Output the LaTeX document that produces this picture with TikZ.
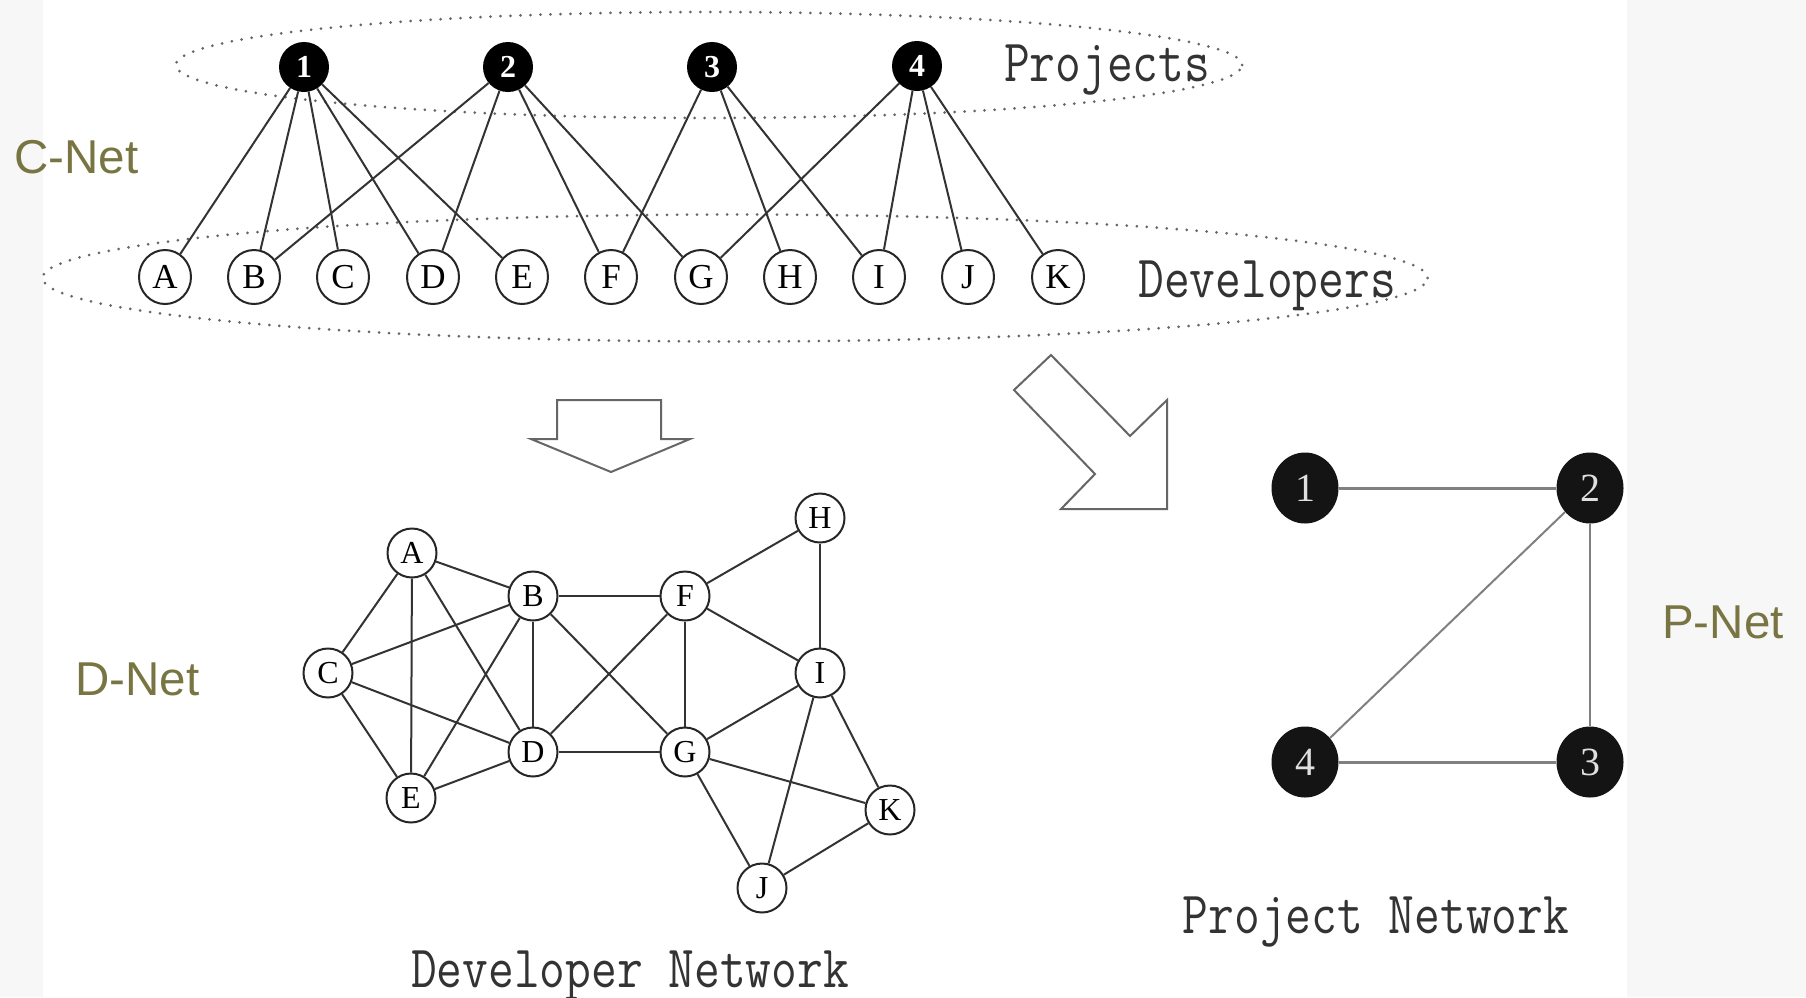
\documentclass[tikz,border=0pt]{standalone}
\usepackage{graphicx}
\usepackage{fontspec}
\setmainfont{Liberation Serif}
\newfontfamily\labelfont{Liberation Sans}
\usetikzlibrary{shapes.geometric}
\definecolor{netolive}{RGB}{120,117,66}
\definecolor{pagegray}{RGB}{247,247,247}
\newcommand{\monotext}[1]{\scalebox{1}[1.2]{\fontsize{50}{50}\selectfont\ttfamily #1}}
\tikzset{
  proj/.style={circle, fill=black, text=white, minimum size=50pt, inner sep=0pt,
    font=\fontsize{32}{32}\selectfont\bfseries},
  dev/.style={ellipse, draw=black!85, line width=2pt, fill=white, minimum width=52pt,
    minimum height=54pt, inner sep=0pt, font=\fontsize{35}{35}\selectfont},
  dn/.style={circle, draw=black!85, line width=2pt, fill=white, minimum size=49pt,
    inner sep=0pt, font=\fontsize{32}{32}\selectfont},
  pn/.style={ellipse, fill=black!92, text=black!12, minimum width=67pt,
    minimum height=71pt, inner sep=0pt, font=\fontsize{40}{40}\selectfont},
  cedge/.style={draw=black!80, line width=2pt},
  pedge/.style={draw=black!50, line width=3pt},
  group/.style={ellipse, draw=black!60, line width=3pt, line cap=round,
    dash pattern=on 0pt off 10pt, inner sep=0pt},
  blockarrow/.style={draw=black!60, line width=2pt, fill=white, line join=miter},
  netlabel/.style={text=netolive, font=\labelfont\fontsize{47.5}{48}\selectfont,
    anchor=base west, inner sep=0pt},
  caption/.style={anchor=base, inner sep=0pt, text=black!80}
}
\begin{document}
\begin{tikzpicture}[x=1pt,y=-1pt]
\useasboundingbox (0,0) rectangle (1806,997);
\fill[pagegray] (0,0) rectangle (1806,997);
\fill[white] (43,0) rectangle (1627,997);

% group ellipses
\node[group, minimum width=1066pt, minimum height=106pt] (projgroup) at (709,65) {};
\node[group, minimum width=1385pt, minimum height=127pt] (devgroup) at (735,278) {};

% project nodes
\node[proj] (p1) at (304,67) {1};
\node[proj] (p2) at (508,67) {2};
\node[proj] (p3) at (712,67) {3};
\node[proj] (p4) at (917,66) {4};
\node[caption] (projtxt) at (1107,81) {\monotext{Projects}};

% developer nodes
\node[dev] (dA) at (165,277) {A};
\node[dev] (dB) at (254,277) {B};
\node[dev] (dC) at (343,277) {C};
\node[dev] (dD) at (433,277) {D};
\node[dev] (dE) at (522,277) {E};
\node[dev] (dF) at (611,277) {F};
\node[dev] (dG) at (701,277) {G};
\node[dev] (dH) at (790,277) {H};
\node[dev] (dI) at (879,277) {I};
\node[dev] (dJ) at (968,277) {J};
\node[dev] (dK) at (1058,277) {K};
\node[caption] (devtxt) at (1267,297) {\monotext{Developers}};

% C-Net edges
\foreach \d in {A,B,C,D,E} \draw[cedge] (p1) -- (d\d);
\foreach \d in {B,D,F,G} \draw[cedge] (p2) -- (d\d);
\foreach \d in {F,H,I} \draw[cedge] (p3) -- (d\d);
\foreach \d in {G,I,J,K} \draw[cedge] (p4) -- (d\d);

% labels
\node[netlabel] (cnet) at (14,173) {C-Net};
\node[netlabel] (dnet) at (75,695) {D-Net};
\node[netlabel] (pnet) at (1662,638) {P-Net};

% block arrows
\draw[blockarrow] (557,400) -- (661,400) -- (661,439) -- (690,439) -- (611,472)
  -- (531,439) -- (557,439) -- cycle;
\draw[blockarrow] (1051,355) -- (1130,436) -- (1167,400) -- (1167,509)
  -- (1061,509) -- (1095,474) -- (1014,390) -- cycle;

% developer network
\node[dn] (nA) at (412,553) {A};
\node[dn] (nB) at (533,596) {B};
\node[dn] (nC) at (328,673) {C};
\node[dn] (nD) at (533,752) {D};
\node[dn] (nE) at (411,798) {E};
\node[dn] (nF) at (685,596) {F};
\node[dn] (nG) at (685,752) {G};
\node[dn] (nH) at (820,518) {H};
\node[dn] (nI) at (820,673) {I};
\node[dn] (nJ) at (762,888) {J};
\node[dn] (nK) at (890,810) {K};
\foreach \a/\b in {A/B,A/C,A/D,A/E,B/C,B/D,B/E,C/D,C/E,D/E,
                   B/F,B/G,D/F,D/G,F/G,F/H,F/I,H/I,G/I,G/J,G/K,I/J,I/K,J/K}
  \draw[cedge] (n\a) -- (n\b);
\node[caption] (devnet) at (630,987) {\monotext{Developer Network}};

% project network
\node[pn] (q1) at (1305,488) {1};
\node[pn] (q2) at (1590,488) {2};
\node[pn] (q3) at (1590,762) {3};
\node[pn] (q4) at (1305,762) {4};
\draw[pedge] (q1) -- (q2);
\draw[pedge, line width=2pt] (q2) -- (q4);
\draw[pedge, line width=2.4pt] (q2) -- (q3);
\draw[pedge] (q4) -- (q3);
\node[caption] (projnet) at (1376,933) {\monotext{Project Network}};
\end{tikzpicture}
\end{document}
